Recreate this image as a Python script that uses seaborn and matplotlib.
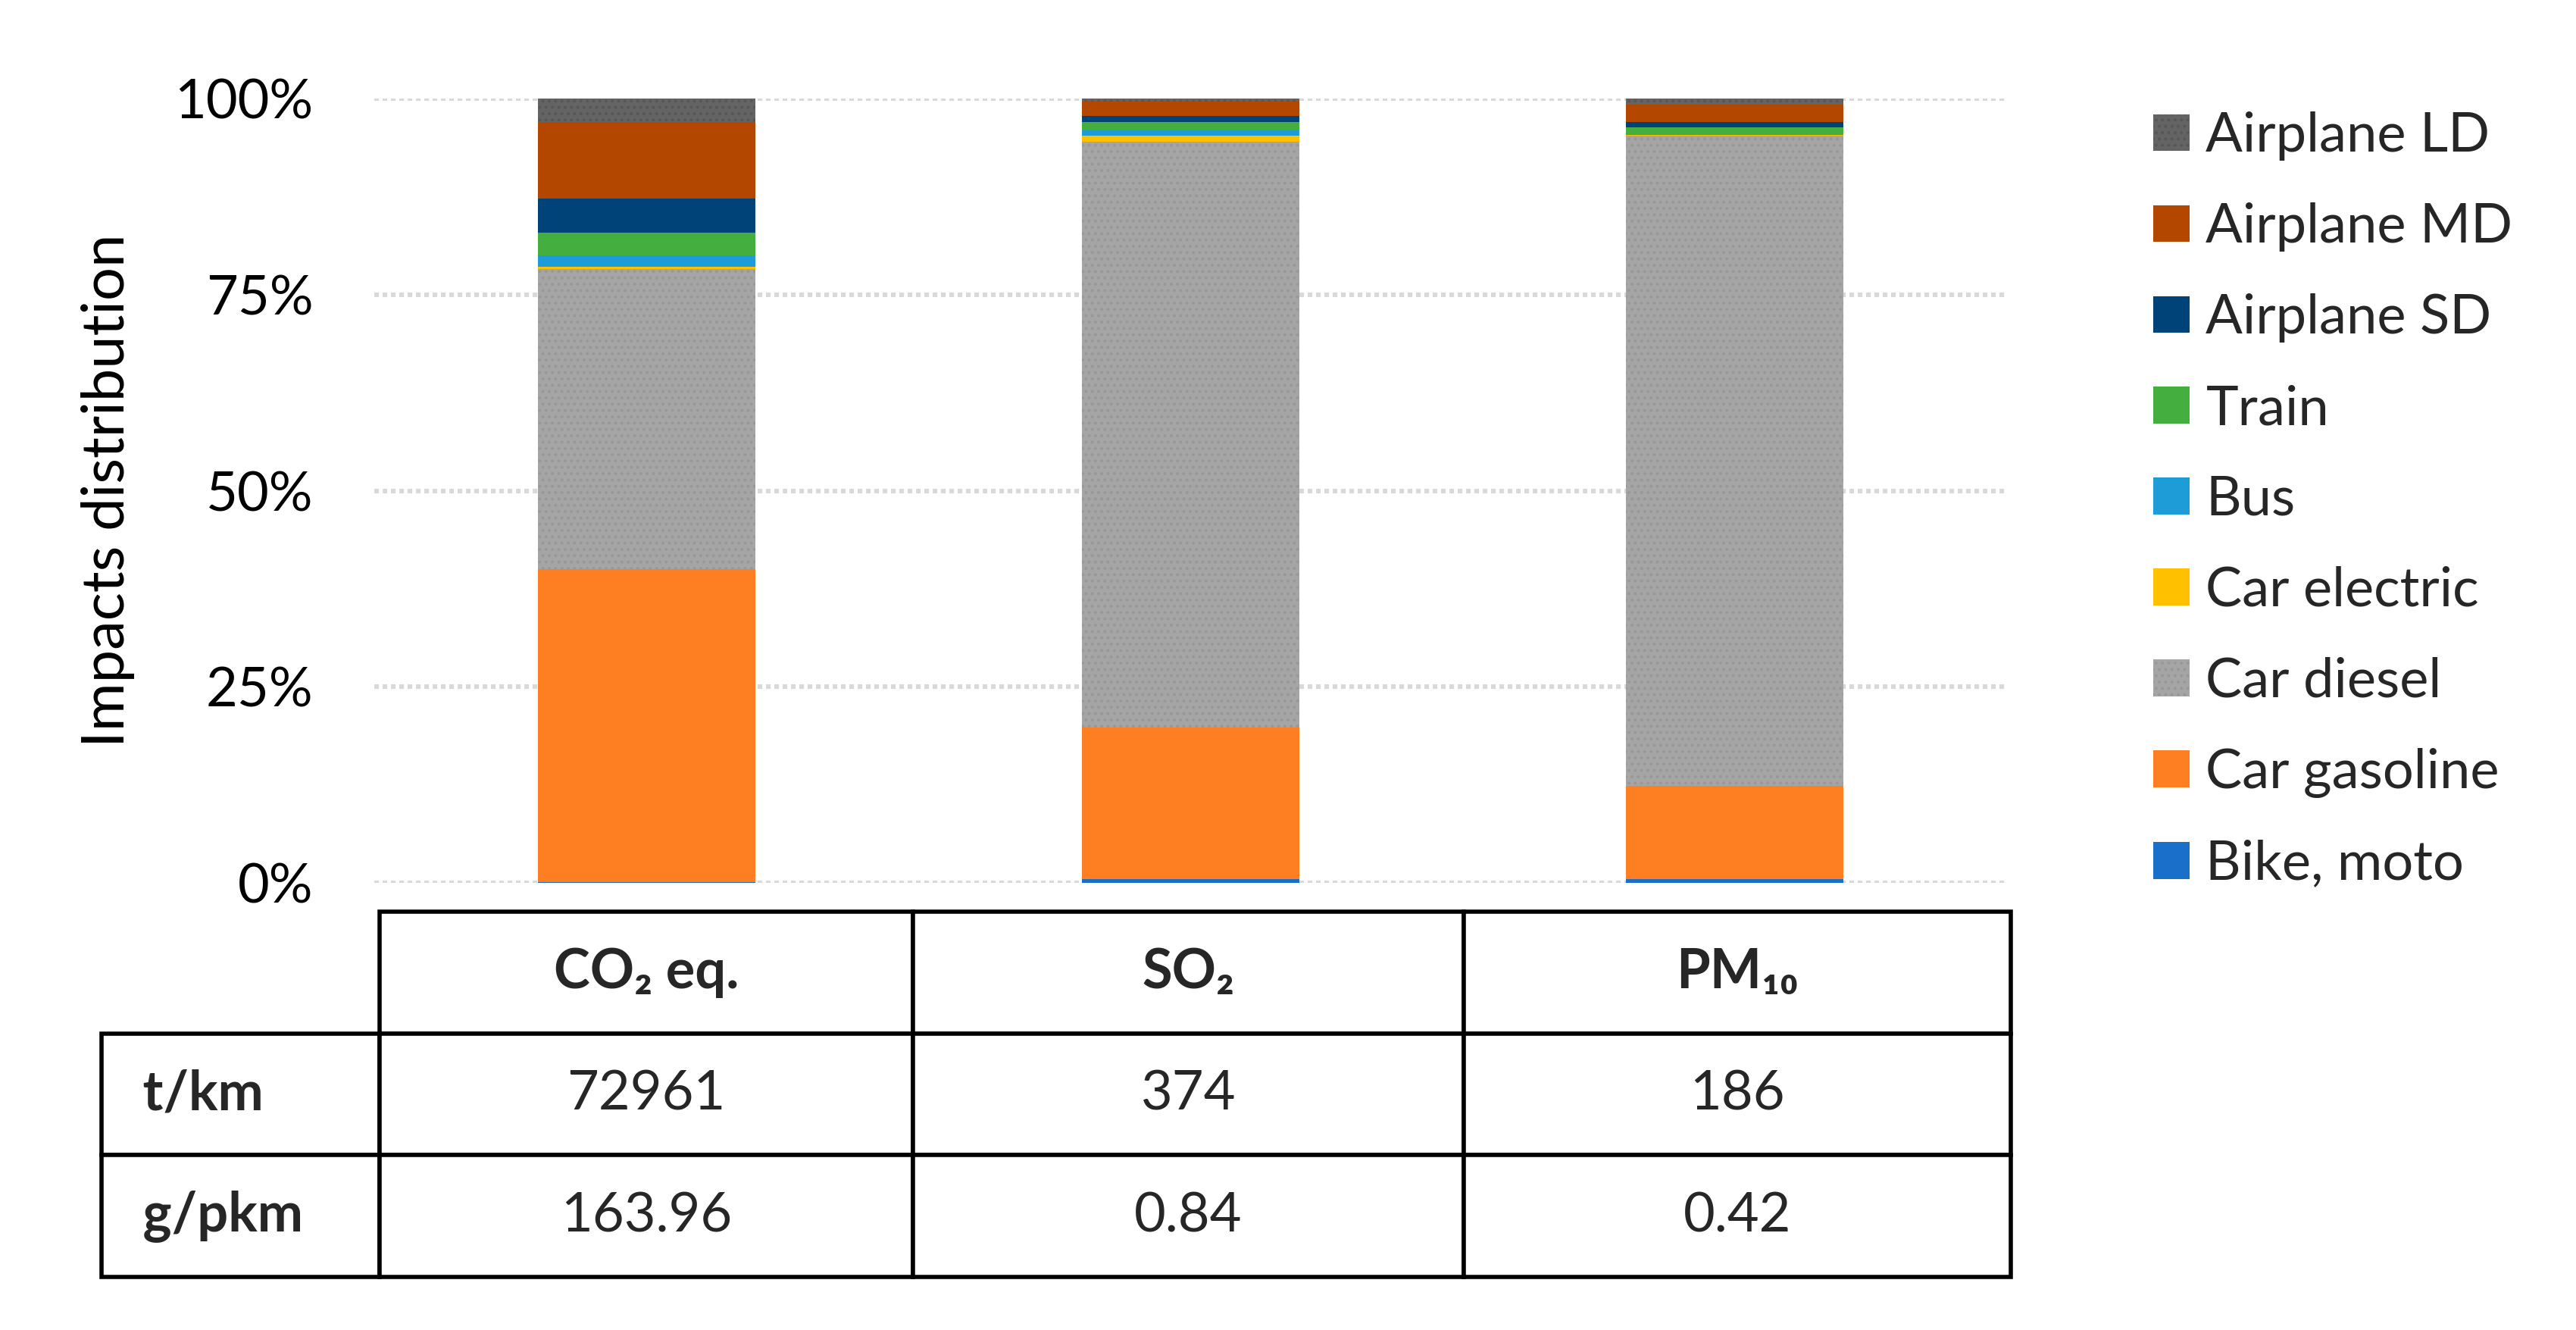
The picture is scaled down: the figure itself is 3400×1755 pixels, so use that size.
import pandas as pd
import matplotlib
matplotlib.use("Agg")
import matplotlib.pyplot as plt
from matplotlib.patches import Patch
from matplotlib.table import Table
import seaborn as sns

# impact categories (one stacked bar each) and transport modes, bottom to top
categories = ["CO2 eq.", "SO2", "PM10"]
modes = ["Bike, moto", "Car gasoline", "Car diesel", "Car electric", "Bus",
         "Train", "Airplane SD", "Airplane MD", "Airplane LD"]

# share of each impact (%)
bike_moto = [0.1, 0.5, 0.5]
car_gasoline = [39.9, 19.3, 11.9]
car_diesel = [38.3, 74.7, 82.9]
car_electric = [0.3, 0.75, 0.05]
bus = [1.4, 0.67, 0.1]
train = [2.9, 1.06, 0.9]
airplane_sd = [4.35, 0.78, 0.7]
airplane_md = [9.75, 1.84, 2.2]
airplane_ld = [3.0, 0.4, 0.75]

# table under the chart
table_header = ["CO\u2082 eq.", "SO\u2082", "PM\u2081\u2080"]
row_labels = ["t/km", "g/pkm"]
t_km = ["72961", "374", "186"]
g_pkm = ["163.96", "0.84", "0.42"]

colors = {
    "Bike, moto": "#1A70C8",
    "Car gasoline": "#FE7E22",
    "Car diesel": "#A5A5A5",
    "Car electric": "#FFC000",
    "Bus": "#1E9CD7",
    "Train": "#44AF3E",
    "Airplane SD": "#004379",
    "Airplane MD": "#B34700",
    "Airplane LD": "#646464",
}
hatches = {"Car diesel": ("....", "#989898"), "Airplane LD": ("....", "#575757")}

sns.set_theme(style="white")
plt.rcParams["font.family"] = ["Lato", "DejaVu Sans"]
plt.rcParams["hatch.linewidth"] = 0.8

df = pd.DataFrame({
    "Bike, moto": bike_moto,
    "Car gasoline": car_gasoline,
    "Car diesel": car_diesel,
    "Car electric": car_electric,
    "Bus": bus,
    "Train": train,
    "Airplane SD": airplane_sd,
    "Airplane MD": airplane_md,
    "Airplane LD": airplane_ld,
}, index=categories)
cum = df[modes].cumsum(axis=1)

fig = plt.figure(figsize=(17, 8.775), dpi=200)
ax = fig.add_axes([0.1453, 0.3362, 0.6338, 0.5897])

# stacked bars: draw cumulative totals from the top layer down
for mode in reversed(modes):
    hatch, hcol = hatches.get(mode, (None, colors[mode]))
    sns.barplot(x=categories, y=cum[mode].values, order=categories,
                color=colors[mode], saturation=1, width=0.4, errorbar=None,
                linewidth=0, edgecolor=hcol, hatch=hatch, ax=ax, zorder=2)

ax.set_xlim(-0.5, 2.5)
ax.set_ylim(0, 100)
ax.set_yticks([0, 25, 50, 75, 100])
ax.set_yticklabels(["0%", "25%", "50%", "75%", "100%"])
ax.tick_params(axis="y", labelsize=26, pad=29, length=0, labelcolor="black")
ax.set_xticks([])
ax.set_xlabel("")
ax.yaxis.grid(True, color="#D9D9D9", linewidth=2.2, linestyle=(0, (1, 0.8)), zorder=0)
ax.set_axisbelow(True)
for s in ax.spines.values():
    s.set_visible(False)
ax.set_ylabel("Impacts distribution", fontsize=28, color="black")
ax.yaxis.set_label_coords(-0.1466, 0.5)

# legend, top entry = top layer
handles = []
for mode in reversed(modes):
    hatch, hcol = hatches.get(mode, (None, colors[mode]))
    handles.append(Patch(facecolor=colors[mode], edgecolor=hcol, hatch=hatch,
                         linewidth=0, label=mode))
fig.legend(handles=handles, loc="upper left", bbox_to_anchor=(0.8359, 0.916),
           frameon=False, fontsize=26, handlelength=0.66, handleheight=0.66,
           handletextpad=0.3, labelspacing=0.76, borderaxespad=0, borderpad=0)

# data table
tax = fig.add_axes([0.0394, 0.0399, 0.7412, 0.2746])
tax.axis("off")
tab = Table(tax, bbox=[0, 0, 1, 1])
col_w = [367, 704, 727, 722]
rows = [[""] + table_header,
        [" " + row_labels[0]] + t_km,
        [" " + row_labels[1]] + g_pkm]
for r, row in enumerate(rows):
    for c, txt in enumerate(row):
        cell = tab.add_cell(r, c, width=col_w[c], height=1, text=txt,
                            loc="left" if c == 0 else "center",
                            facecolor="white", edgecolor="black")
        cell.set_linewidth(2.0)
        if r == 0 or c == 0:
            cell.get_text().set_fontweight("bold")
        if r == 0 and c == 0:
            cell.visible_edges = "open"
tab.auto_set_font_size(False)
tab.set_fontsize(26)
tax.add_table(tab)

fig.savefig("out.png", dpi=200, facecolor="white")
